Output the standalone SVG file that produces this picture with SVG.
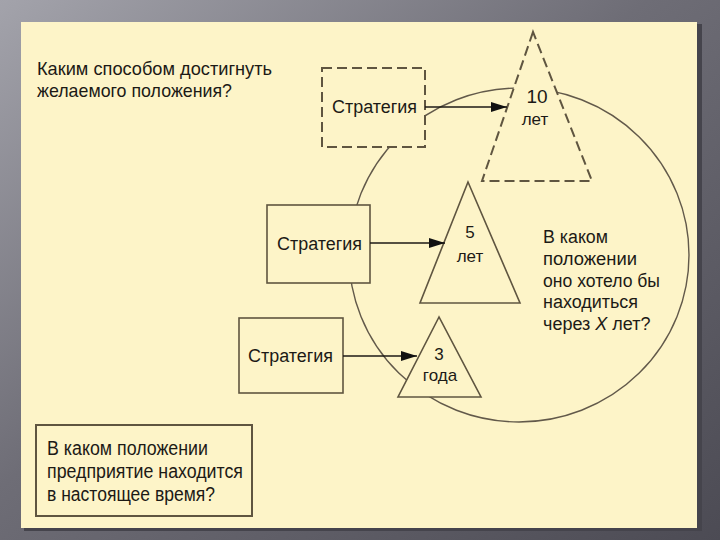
<svg xmlns="http://www.w3.org/2000/svg" width="720" height="540" viewBox="0 0 720 540">
<defs>
<linearGradient id="bg" x1="0" y1="0" x2="1" y2="1">
<stop offset="0" stop-color="#a3a3ab"/>
<stop offset="0.45" stop-color="#6e6d76"/>
<stop offset="1" stop-color="#4c4b54"/>
</linearGradient>
<marker id="arr" viewBox="0 0 16 10" refX="16" refY="5" markerWidth="16" markerHeight="10" markerUnits="userSpaceOnUse" orient="auto">
<path d="M0,0 L16,5 L0,10 Z" fill="#111"/>
</marker>
<style>
text{font-family:"Liberation Sans",Arial,sans-serif;fill:#1c1a16}
.lbl{font-size:18px}
.big{font-size:19px}
.tri{font-size:17px;text-anchor:middle}
.box{fill:#fdf4c8;stroke:#5f5540;stroke-width:1.6}
.dash{stroke-dasharray:10,5;stroke-width:2}
.con{fill:none;stroke:#1c1a16;stroke-width:1.3}
.circ{fill:none;stroke:#62594a;stroke-width:1.4}
</style>
</defs>
<rect width="720" height="540" fill="url(#bg)"/>
<rect x="24" y="24" width="678" height="507" fill="#45444c"/>
<rect x="21" y="22" width="676" height="506" fill="#fdf4c8"/>

<ellipse class="circ" cx="519" cy="255" rx="170" ry="167"/>

<g id="question-top">
<text class="big" x="37" y="75" textLength="235" lengthAdjust="spacingAndGlyphs">Каким способом достигнуть</text>
<text class="big" x="37" y="97" textLength="195" lengthAdjust="spacingAndGlyphs">желаемого положения?</text>
</g>

<g id="strategy-10">
<rect class="box dash" x="322" y="68" width="103" height="79"/>
<text class="lbl" x="332" y="113" textLength="85" lengthAdjust="spacingAndGlyphs">Стратегия</text>
</g>
<g id="strategy-5">
<rect class="box" x="267" y="205" width="103" height="78"/>
<text class="lbl" x="277" y="250" textLength="85" lengthAdjust="spacingAndGlyphs">Стратегия</text>
</g>
<g id="strategy-3">
<rect class="box" x="239" y="318" width="104" height="75"/>
<text class="lbl" x="248" y="362" textLength="85" lengthAdjust="spacingAndGlyphs">Стратегия</text>
</g>

<g id="tri-10">
<polygon class="box dash" points="533,32 482,181 592,181"/>
<text class="tri" x="537" y="103" style="font-size:19px">10</text>
<text class="tri" x="535" y="125">лет</text>
</g>
<g id="tri-5">
<polygon class="box" points="468,182 420,303 520,303"/>
<text class="tri" x="470" y="238">5</text>
<text class="tri" x="470" y="262">лет</text>
</g>
<g id="tri-3">
<polygon class="box" points="439,317 398,397 481,397"/>
<text class="tri" x="439" y="360">3</text>
<text class="tri" x="440" y="381">года</text>
</g>

<g id="connectors">
<line class="con" x1="425" y1="107" x2="507" y2="107" marker-end="url(#arr)"/>
<line class="con" x1="370" y1="243" x2="445" y2="243" marker-end="url(#arr)"/>
<line class="con" x1="343" y1="356" x2="417" y2="356" marker-end="url(#arr)"/>
</g>

<g id="question-right">
<text class="lbl" x="543" y="243" textLength="65" lengthAdjust="spacingAndGlyphs">В каком</text>
<text class="lbl" x="543" y="265" textLength="94" lengthAdjust="spacingAndGlyphs">положении</text>
<text class="lbl" x="543" y="287" textLength="117" lengthAdjust="spacingAndGlyphs">оно хотело бы</text>
<text class="lbl" x="543" y="308" textLength="95" lengthAdjust="spacingAndGlyphs">находиться</text>
<text class="lbl" x="543" y="330">через <tspan font-style="italic">X</tspan> лет?</text>
</g>

<g id="question-bottom">
<rect class="box" x="36" y="425" width="216" height="91" style="stroke-width:2"/>
<text class="big" x="47" y="455" textLength="161" lengthAdjust="spacingAndGlyphs" style="font-size:20px">В каком положении</text>
<text class="big" x="47" y="478" textLength="196" lengthAdjust="spacingAndGlyphs" style="font-size:20px">предприятие находится</text>
<text class="big" x="47" y="501" textLength="168" lengthAdjust="spacingAndGlyphs" style="font-size:20px">в настоящее время?</text>
</g>
</svg>
